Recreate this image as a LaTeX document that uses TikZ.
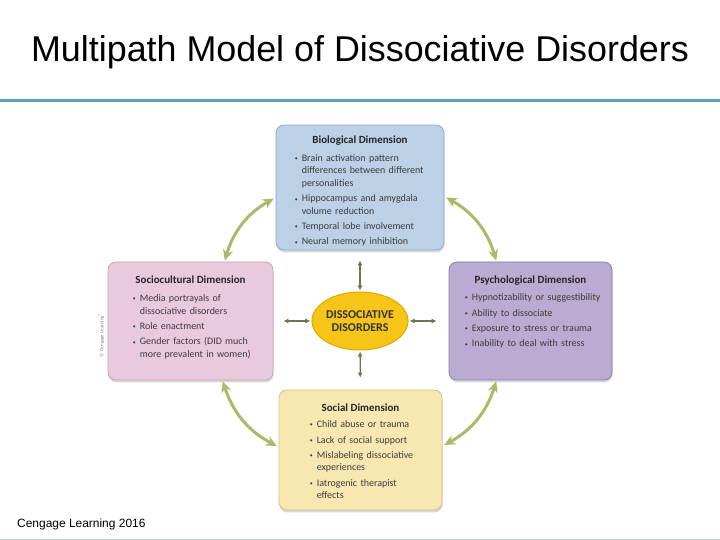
\documentclass[tikz,border=0pt]{standalone}
\usepackage{fontspec}
\setmainfont{Carlito}
\newfontfamily\slidefont{Liberation Sans}
\usepackage{tikz}
\usetikzlibrary{positioning,arrows.meta,shapes.geometric,shadows}
\definecolor{rulecol}{HTML}{62A0B4}
\definecolor{biofill}{HTML}{BCD0E6}
\definecolor{bioedge}{HTML}{93AAC4}
\definecolor{sociofill}{HTML}{E9CADD}
\definecolor{socioedge}{HTML}{CBA2BC}
\definecolor{psychfill}{HTML}{B9ABD1}
\definecolor{psychedge}{HTML}{8C7DAC}
\definecolor{socialfill}{HTML}{F9E7B2}
\definecolor{socialedge}{HTML}{DDBF7C}
\definecolor{corefill}{HTML}{F6C517}
\definecolor{coreedge}{HTML}{DDA800}
\definecolor{spokecol}{HTML}{6C7650}
\definecolor{linkgreen}{HTML}{A9BB6B}
\definecolor{textgray}{HTML}{3C3C3C}
\newcommand{\dimitem}{\par\hangindent=7bp\hangafter=1\noindent\makebox[7bp][l]{\raisebox{0.7bp}{\fontsize{6}{6}\selectfont •}}}

\begin{document}
\begin{tikzpicture}[
    x=1bp, y=1bp,
    dimbox/.style={rectangle, rounded corners=8bp, line width=0.8bp, drop shadow={shadow xshift=0.6bp, shadow yshift=-2.5bp, opacity=0.3}},
    dimtitle/.style={font=\bfseries\fontsize{11}{13}\selectfont, text=black!85, inner sep=0pt},
    dimlist/.style={font=\fontsize{10}{12.4}\selectfont, text=textgray, inner sep=0pt, text width=#1, align=left, execute at begin node={\setlength{\parskip}{3bp}}},
    core/.style={ellipse, draw=coreedge, line width=1bp, fill=corefill, minimum width=94bp, minimum height=58bp, inner sep=0pt, align=center, font=\bfseries\fontsize{12}{13.5}\selectfont, text=black!80},
    spoke/.style={{Latex[length=5bp,width=5bp]}-{Latex[length=5bp,width=5bp]}, line width=1.3bp, draw=spokecol},
    link/.style={{Stealth[length=11bp,width=10bp]}-{Stealth[length=11bp,width=10bp]}, line width=3bp, draw=linkgreen}
]
    \useasboundingbox[fill=white] (0,0) rectangle (720,540);

    % Slide heading
    \node[anchor=base, font=\slidefont\fontsize{36}{40}\selectfont] (title) at (360,478) {Multipath Model of Dissociative Disorders};
    \draw[rulecol, line width=3bp] (0,439) -- (720,439);
    \draw[rulecol!45, line width=1bp] (0,0.5) -- (720,0.5);

    % Centre
    \node[core] (core) at (360,219) {DISSOCIATIVE\\DISORDERS};

    % Dimensions
    \node[dimbox, fill=biofill, draw=bioedge, minimum width=168bp, minimum height=125bp] (bio) at (360,352.5) {};
    \node[dimtitle, below=11bp of bio.north] (biotitle) {Biological Dimension};
    \node[dimlist=145bp, below right=21.5bp and 19bp of bio.north west] (biolist) {%
        \dimitem Brain activation pattern\newline differences between different\newline personalities
        \dimitem Hippocampus and amygdala\newline volume reduction
        \dimitem Temporal lobe involvement
        \dimitem Neural memory inhibition\par};

    \node[dimbox, fill=sociofill, draw=socioedge, minimum width=165bp, minimum height=118bp] (socio) at (190.5,219) {};
    \node[dimtitle, below=14bp of socio.north] (sociotitle) {Sociocultural Dimension};
    \node[dimlist=136bp, below right=24.5bp and 25bp of socio.north west] (sociolist) {%
        \dimitem Media portrayals of\newline dissociative disorders
        \dimitem Role enactment
        \dimitem Gender factors (DID much\newline more prevalent in women)\par};

    \node[dimbox, fill=psychfill, draw=psychedge, minimum width=163bp, minimum height=118bp] (psych) at (530.5,219) {};
    \node[dimtitle, below=14bp of psych.north] (psychtitle) {Psychological Dimension};
    \node[dimlist=145bp, below right=23.5bp and 16bp of psych.north west] (psychlist) {%
        \dimitem Hypnotizability or suggestibility
        \dimitem Ability to dissociate
        \dimitem Exposure to stress or trauma
        \dimitem Inability to deal with stress\par};

    \node[dimbox, fill=socialfill, draw=socialedge, minimum width=163bp, minimum height=120bp] (social) at (360.5,90) {};
    \node[dimtitle, below=14bp of social.north] (socialtitle) {Social Dimension};
    \node[dimlist=125bp, below right=22.5bp and 31bp of social.north west] (sociallist) {%
        \dimitem Child abuse or trauma
        \dimitem Lack of social support
        \dimitem Mislabeling dissociative\newline experiences
        \dimitem Iatrogenic therapist\newline effects\par};

    % Spokes
    \draw[spoke, shorten <=1bp, shorten >=10bp] (core) -- (bio);
    \draw[spoke, shorten <=1bp, shorten >=10bp] (core) -- (socio);
    \draw[spoke, shorten <=1bp, shorten >=12bp] (core) -- (psych);
    \draw[spoke, shorten <=1bp, shorten >=12bp] (core) -- (social);

    % Links between dimensions
    \draw[link, shorten <=2bp, shorten >=1bp] ([yshift=-10bp]bio.west) to[bend right=22] ([xshift=34bp]socio.north);
    \draw[link, shorten <=2bp, shorten >=1bp] ([yshift=-9bp]bio.east) to[bend left=22] ([xshift=-34bp]psych.north);
    \draw[link, shorten <=1bp, shorten >=2bp] ([xshift=32bp]socio.south) to[bend right=22] ([yshift=3bp]social.west);
    \draw[link, shorten <=1bp, shorten >=2bp] ([xshift=-34bp]psych.south) to[bend left=22] ([yshift=4bp]social.east);

    % Credits
    \node[rotate=90, font=\fontsize{5}{6}\selectfont, text=black!50, inner sep=0pt] (copy) at (101,205) {\textcopyright\ Cengage Learning\textsuperscript{\textregistered}};
    \node[anchor=base west, font=\slidefont\fontsize{12}{14}\selectfont, inner sep=0pt] (source) at (17,12) {Cengage Learning 2016};
\end{tikzpicture}
\end{document}
